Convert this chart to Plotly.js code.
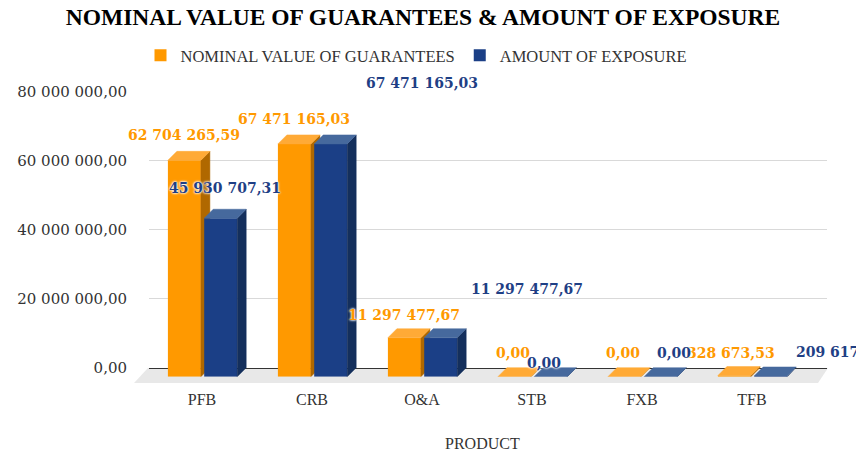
<!DOCTYPE html>
<html>
<head>
<meta charset="utf-8">
<script src="https://cdn.plot.ly/plotly-3.0.1.min.js"></script>
<style>
  html, body { margin: 0; padding: 0; background: #ffffff; }
  #chart { width: 856px; height: 452px; }
</style>
</head>
<body>
<div id="chart"></div>
<script>
// ---------------- DATA ----------------
const categories = ['PFB', 'CRB', 'O&A', 'STB', 'FXB', 'TFB'];
const nominalValues = [62704265.59, 67471165.03, 11297477.67, 0, 0, 328673.53];
const exposureValues = [45930707.31, 67471165.03, 11297477.67, 0, 0, 209617.00];
const seriesNames = ['NOMINAL VALUE OF GUARANTEES', 'AMOUNT OF EXPOSURE'];
const yTickValues = [0, 20000000, 40000000, 60000000, 80000000];

// ---------------- LAYOUT GEOMETRY ----------------
const W = 856, H = 452;
const px = x => x / W;
const py = y => 1 - y / H;
const Y_MAX = 80000000;
const FRONT = { x0: 147, x1: 807, base: 376.7, top: 100.7 };
const BACK  = { x0: 149, x1: 827, base: 367.7, top: 91.7 };
const DEPTH_PX = 9;
const unitPx = (FRONT.x1 - FRONT.x0) / categories.length;
const DX = DEPTH_PX / unitPx;
const DY = DEPTH_PX * Y_MAX / (FRONT.base - FRONT.top);

const ORANGE = { front: '#FF9900', top: '#FFAA36', side: '#B06800', text: '#FF9900', off: -0.31, wid: 0.30 };
const BLUE   = { front: '#1B3F86', top: '#46699D', side: '#142F5C', text: '#1F3F85', off: 0.02, wid: 0.30 };

// label nudges in pixels [dx, dy]
const nominalNudge  = [[0, 25], [0, 25], [0, 23], [-1, 24], [-1, 24], [-3, 23]];
const exposureNudge = [[4, 30], [91, 61], [86, 49], [-7, 14], [13, 24], [69, 24]];

function fmt(v) {
  const parts = v.toFixed(2).split('.');
  return parts[0].replace(/\B(?=(\d{3})+(?!\d))/g, ' ') + ',' + parts[1];
}

function faces(vals, st) {
  const sx = [], sy = [], tx = [], ty = [];
  vals.forEach((v, i) => {
    const x0 = i + st.off, x1 = x0 + st.wid;
    tx.push(x0, x1, x1 + DX, x0 + DX, x0, null);
    ty.push(v, v, v + DY, v + DY, v, null);
    sx.push(x1, x1 + DX, x1 + DX, x1, x1, null);
    sy.push(0, DY, v + DY, v, 0, null);
  });
  return { sx, sy, tx, ty };
}

const idx = categories.map((c, i) => i);

function seriesTraces(vals, name, st, xa, ya) {
  const f = faces(vals, st);
  return [
    { type: 'bar', name: name, x: idx, y: vals, offset: st.off, width: st.wid,
      marker: { color: st.front, line: { width: 0 } }, xaxis: xa, yaxis: ya, hoverinfo: 'skip' },
    { type: 'scatter', mode: 'lines', x: f.sx, y: f.sy, fill: 'toself', fillcolor: st.side,
      line: { color: st.side, width: 0.5 }, showlegend: false, hoverinfo: 'skip', xaxis: xa, yaxis: ya },
    { type: 'scatter', mode: 'lines', x: f.tx, y: f.ty, fill: 'toself', fillcolor: st.top,
      line: { color: st.top, width: 0.5 }, showlegend: false, hoverinfo: 'skip', xaxis: xa, yaxis: ya }
  ];
}

const traces = [
  { type: 'scatter', mode: 'none', x: [0], y: [0], xaxis: 'x', yaxis: 'y', showlegend: false, hoverinfo: 'skip' }
].concat(
  seriesTraces(nominalValues, seriesNames[0], ORANGE, 'x2', 'y2'),
  seriesTraces(exposureValues, seriesNames[1], BLUE, 'x3', 'y3')
);

const labelShadow = '0 0 2px #ffffff, 0 0 2px #ffffff, 0 0 3px #ffffff';
const annotations = [];
function addLabels(vals, st, nudge) {
  vals.forEach((v, i) => {
    annotations.push({
      xref: 'x2', yref: 'y2', x: i + st.off + st.wid / 2, y: v,
      xshift: nudge[i][0], yshift: nudge[i][1],
      text: fmt(v), showarrow: false, xanchor: 'center', yanchor: 'middle',
      font: { family: 'DejaVu Serif', size: 14, weight: 700, color: st.text, shadow: labelShadow }
    });
  });
}
addLabels(nominalValues, ORANGE, nominalNudge);
addLabels(exposureValues, BLUE, exposureNudge);

annotations.push({
  xref: 'paper', yref: 'paper', x: px(482), y: py(443), xanchor: 'center', yanchor: 'middle',
  text: 'PRODUCT', showarrow: false,
  font: { family: 'Liberation Serif', size: 16, color: '#333333' }
});

const layout = {
  width: W, height: H,
  margin: { l: 0, r: 0, t: 0, b: 0, pad: 0 },
  paper_bgcolor: '#ffffff', plot_bgcolor: 'rgba(0,0,0,0)',
  barmode: 'overlay',
  title: {
    text: 'NOMINAL VALUE OF GUARANTEES &amp; AMOUNT OF EXPOSURE',
    x: px(423), xanchor: 'center', xref: 'paper',
    y: py(17), yanchor: 'middle', yref: 'paper',
    font: { family: 'Liberation Serif', size: 23.5, weight: 700, color: '#000000' }
  },
  showlegend: true,
  legend: {
    orientation: 'h', x: px(416), xanchor: 'center', y: py(55.5), yanchor: 'middle',
    font: { family: 'Liberation Serif', size: 16.5, color: '#333333' },
    bgcolor: 'rgba(0,0,0,0)', traceorder: 'normal'
  },
  // back wall (gridlines + value labels)
  xaxis: {
    domain: [px(BACK.x0), px(BACK.x1)], range: [0, 1], anchor: 'y',
    showgrid: false, zeroline: false, showticklabels: false, ticks: '',
    showline: true, linecolor: '#333333', linewidth: 1.2
  },
  yaxis: {
    domain: [py(BACK.base), py(BACK.top)], range: [0, Y_MAX], anchor: 'x',
    tickvals: yTickValues, ticktext: yTickValues.map(fmt),
    showgrid: true, gridcolor: '#d9d9d9', gridwidth: 1, zeroline: false, showline: false,
    ticks: '', ticklabelstandoff: 21,
    tickfont: { family: 'DejaVu Serif', size: 15, color: '#333333' }
  },
  // front plane (orange series)
  xaxis2: {
    domain: [px(FRONT.x0), px(FRONT.x1)], range: [-0.5, categories.length - 0.5], anchor: 'y2',
    tickvals: idx, ticktext: categories, showgrid: false, zeroline: false, showline: false,
    ticks: '', ticklabelstandoff: 11,
    tickfont: { family: 'Liberation Serif', size: 16, color: '#333333' }
  },
  yaxis2: {
    domain: [py(FRONT.base), py(FRONT.top)], range: [0, Y_MAX], anchor: 'x2',
    visible: false, showgrid: false, zeroline: false
  },
  // front plane (blue series), overlaid so it draws on top
  xaxis3: {
    overlaying: 'x2', range: [-0.5, categories.length - 0.5], anchor: 'y3',
    visible: false, showgrid: false, zeroline: false
  },
  yaxis3: {
    overlaying: 'y2', range: [0, Y_MAX], anchor: 'x3',
    visible: false, showgrid: false, zeroline: false
  },
  shapes: [{
    type: 'path', xref: 'paper', yref: 'paper', layer: 'below',
    path: 'M ' + px(134) + ' ' + py(383) + ' L ' + px(148) + ' ' + py(368) +
          ' L ' + px(828) + ' ' + py(368) + ' L ' + px(818) + ' ' + py(383) + ' Z',
    fillcolor: '#e8e8e8', line: { width: 0 }
  }],
  annotations: annotations
};

Plotly.newPlot('chart', traces, layout, { staticPlot: true, displayModeBar: false });
</script>
</body>
</html>
